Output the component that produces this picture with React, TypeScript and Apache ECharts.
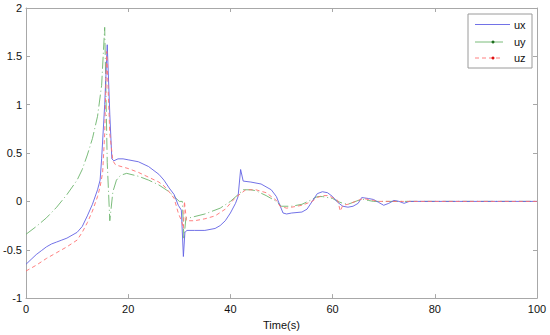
import React, { useEffect, useRef } from "react";
import * as echarts from "echarts";

const xTicks = [0, 20, 40, 60, 80, 100];
const yTicks = [-1, -0.5, 0, 0.5, 1, 1.5, 2];

const uxT = [0, 1, 2, 3, 4, 5, 6, 7, 8, 9, 10, 11, 12, 13, 14, 14.5, 14.8, 15.4, 15.9, 16.4, 16.8, 17.2, 18, 19, 20, 22, 24, 26, 27, 28, 29, 29.8, 30.4, 30.8, 31.1, 31.5, 33, 35, 37, 38, 39, 40, 41, 41.5, 42, 42.5, 44, 46, 48, 49, 50.3, 51, 52, 54, 55, 56, 57, 58, 59, 60, 61, 62, 63, 64, 65, 65.7, 67, 68, 69, 70, 71, 72, 73, 74, 75, 76, 80, 90, 100];
const uxV = [-0.65, -0.6, -0.55, -0.51, -0.47, -0.44, -0.42, -0.4, -0.38, -0.35, -0.32, -0.26, -0.15, -0.03, 0.12, 0.22, 0.44, 1.0, 1.62, 0.9, 0.44, 0.42, 0.44, 0.44, 0.43, 0.41, 0.36, 0.28, 0.22, 0.14, 0.07, -0.04, -0.09, -0.57, -0.32, -0.3, -0.3, -0.3, -0.28, -0.25, -0.2, -0.12, -0.02, 0.05, 0.33, 0.21, 0.2, 0.18, 0.12, 0.05, -0.12, -0.13, -0.12, -0.11, -0.08, 0.0, 0.08, 0.1, 0.09, 0.05, -0.01, -0.05, -0.06, -0.05, -0.02, 0.04, 0.03, 0.02, -0.01, -0.04, -0.02, 0.01, 0.0, -0.02, 0.0, 0.0, 0, 0, 0];

const uyT = [0, 2, 4, 6, 8, 10, 11, 12, 13, 14, 14.8, 15.1, 15.4, 15.9, 16.4, 17, 17.7, 18.5, 19.7, 22, 24, 26, 28, 29, 30, 30.6, 30.9, 31.3, 32, 35, 38, 40, 41.5, 42.5, 44, 45, 47, 49, 50, 52, 54, 56, 57, 58, 60, 61, 62, 63, 64, 65, 66, 67, 68, 70, 75, 80, 100];
const uyV = [-0.34, -0.26, -0.17, -0.06, 0.07, 0.22, 0.33, 0.48, 0.65, 0.88, 1.2, 1.5, 1.8, 0.4, -0.2, 0.1, 0.22, 0.27, 0.29, 0.26, 0.22, 0.17, 0.1, 0.05, 0.0, 0.0, -0.38, -0.17, -0.17, -0.13, -0.07, 0.0, 0.07, 0.12, 0.12, 0.11, 0.06, 0.0, -0.05, -0.05, -0.03, 0.02, 0.05, 0.05, 0.03, 0.0, -0.02, -0.03, -0.01, 0.01, 0.02, 0.01, 0.0, 0, 0, 0, 0];

const uzT = [0, 2, 4, 6, 8, 10, 11, 12, 13, 14, 14.5, 15, 15.4, 15.8, 16.4, 17, 17.5, 18, 20, 22, 24, 26, 27, 28, 29, 29.8, 30.5, 30.8, 31.0, 31.4, 33, 35, 37, 39, 40, 41, 42, 43, 45, 47, 48, 49, 49.7, 51, 52, 54, 56, 57, 58, 59, 60, 61, 61.5, 62, 63, 64, 65, 66, 67, 68, 69, 70, 72, 75, 80, 100];
const uzV = [-0.72, -0.66, -0.59, -0.53, -0.47, -0.4, -0.32, -0.22, -0.1, 0.05, 0.15, 0.3, 0.7, 1.55, 0.7, 0.42, 0.38, 0.37, 0.34, 0.3, 0.25, 0.2, 0.16, 0.1, 0.03, -0.12, -0.21, -0.28, 0.0, -0.2, -0.2, -0.18, -0.15, -0.08, -0.02, 0.04, 0.08, 0.12, 0.12, 0.09, 0.05, 0.01, -0.05, -0.07, -0.06, -0.04, 0.0, 0.04, 0.06, 0.06, 0.04, 0.01, -0.1, -0.04, -0.03, -0.01, 0.01, 0.03, 0.02, 0.01, 0, 0, 0, 0, 0, 0];

const seriesNames = ["ux", "uy", "uz"];
const colors = ["#6262e4", "#6cb46c", "#ff7272"];

const pairs = (t: number[], v: number[]) => t.map((x, i) => [x, v[i]]);

export default function App() {
  const ref = useRef<HTMLDivElement>(null);
  useEffect(() => {
    if (!ref.current) return;
    const chart = echarts.init(ref.current, null, { renderer: "svg" });
    const axisColor = "#a8a8a8";
    const font = "'Liberation Sans', Arial, sans-serif";
    const legendX = 468;
    const legendY = 14;
    const rows = [24.5, 42, 58];
    const frameAxis = {
      axisLine: { show: true, onZero: false, lineStyle: { color: axisColor, width: 1 } },
      axisTick: { show: true, inside: true, length: 4, lineStyle: { color: axisColor } },
      splitLine: { show: false },
    };
    chart.setOption({
      animation: false,
      backgroundColor: "#ffffff",
      grid: { left: 26, right: 13, top: 8, bottom: 34 },
      xAxis: [
        {
          type: "value",
          min: 0,
          max: 100,
          interval: 20,
          position: "bottom",
          name: "Time(s)",
          nameLocation: "middle",
          nameGap: 20,
          nameTextStyle: { fontSize: 11, color: "#111", fontFamily: font },
          ...frameAxis,
          axisLabel: {
            fontSize: 11,
            color: "#111",
            fontFamily: font,
            margin: 5,
            formatter: (v: number) => (xTicks.includes(v) ? String(v) : ""),
          },
        },
        {
          type: "value",
          min: 0,
          max: 100,
          interval: 20,
          position: "top",
          ...frameAxis,
          axisLabel: { show: false },
        },
      ],
      yAxis: [
        {
          type: "value",
          min: -1,
          max: 2,
          interval: 0.5,
          position: "left",
          ...frameAxis,
          axisLabel: {
            fontSize: 11,
            color: "#111",
            fontFamily: font,
            margin: 4,
            formatter: (v: number) => (yTicks.includes(v) ? String(v) : ""),
          },
        },
        {
          type: "value",
          min: -1,
          max: 2,
          interval: 0.5,
          position: "right",
          ...frameAxis,
          axisLabel: { show: false },
        },
      ],
      series: [
        {
          name: seriesNames[0],
          type: "line",
          data: pairs(uxT, uxV),
          showSymbol: false,
          lineStyle: { color: colors[0], width: 0.9 },
          z: 3,
        },
        {
          name: seriesNames[1],
          type: "line",
          data: pairs(uyT, uyV),
          showSymbol: false,
          lineStyle: { color: colors[1], width: 0.9, type: [12, 3, 1, 3] },
          z: 2,
        },
        {
          name: seriesNames[2],
          type: "line",
          data: pairs(uzT, uzV),
          showSymbol: false,
          lineStyle: { color: colors[2], width: 0.9, type: [4, 3] },
          z: 4,
        },
      ],
      graphic: [
        {
          type: "rect",
          shape: { x: legendX, y: legendY, width: 64, height: 54 },
          style: { fill: "#ffffff", stroke: "#9a9a9a", lineWidth: 1 },
          z: 10,
        },
        {
          type: "line",
          shape: { x1: 475, y1: rows[0], x2: 510, y2: rows[0] },
          style: { stroke: colors[0], lineWidth: 0.9 },
          z: 11,
        },
        {
          type: "line",
          shape: { x1: 475, y1: rows[1], x2: 503, y2: rows[1] },
          style: { stroke: colors[1], lineWidth: 0.9 },
          z: 11,
        },
        {
          type: "circle",
          shape: { cx: 493, cy: rows[1], r: 1.5 },
          style: { fill: "#1d6e1d" },
          z: 12,
        },
        {
          type: "line",
          shape: { x1: 475, y1: rows[2], x2: 503, y2: rows[2] },
          style: { stroke: colors[2], lineWidth: 0.9, lineDash: [4, 3] },
          z: 11,
        },
        {
          type: "circle",
          shape: { cx: 493, cy: rows[2], r: 1.5 },
          style: { fill: "#e01010" },
          z: 12,
        },
        ...seriesNames.map((n, i) => ({
          type: "text",
          x: 514,
          y: rows[i],
          style: {
            text: n,
            fill: "#111",
            fontSize: 11,
            fontFamily: font,
            verticalAlign: "middle",
            align: "left",
          },
          z: 12,
        })),
      ],
    });
    return () => chart.dispose();
  }, []);
  return (
    <div
      ref={ref}
      style={{ position: "fixed", left: 0, top: 0, width: 550, height: 335, background: "#fff" }}
    />
  );
}
